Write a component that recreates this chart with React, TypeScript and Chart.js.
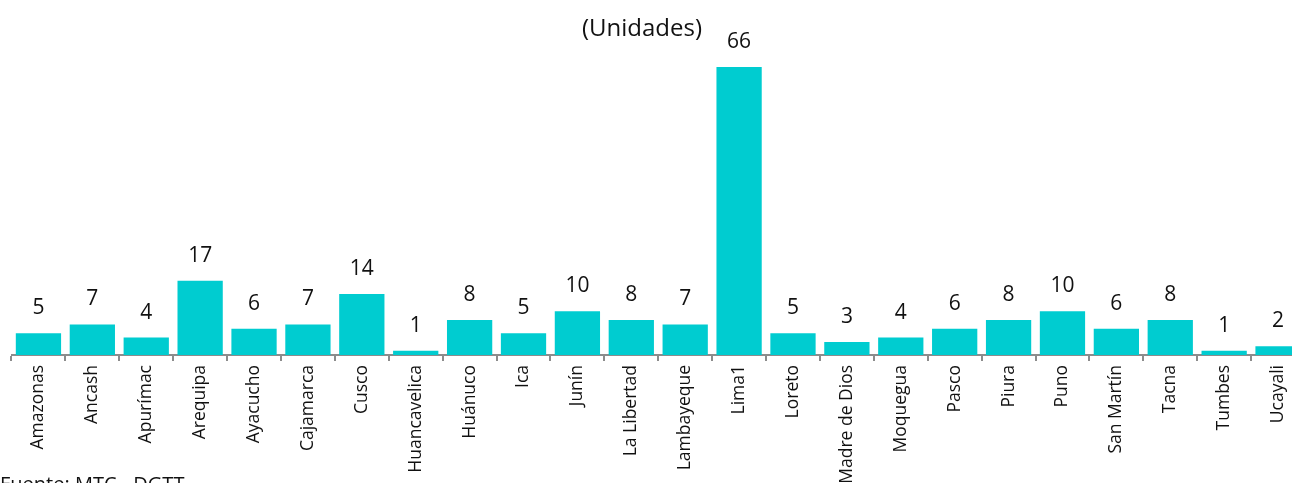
import React, { useEffect, useRef } from "react";
import { Chart, registerables } from "chart.js";

Chart.register(...registerables);

const categories = [
  "Amazonas", "Ancash", "Apurímac", "Arequipa", "Ayacucho", "Cajamarca", "Cusco",
  "Huancavelica", "Huánuco", "Ica", "Junín", "La Libertad", "Lambayeque", "Lima1",
  "Loreto", "Madre de Dios", "Moquegua", "Pasco", "Piura", "Puno", "San Martín",
  "Tacna", "Tumbes", "Ucayali",
];
const values = [5, 7, 4, 17, 6, 7, 14, 1, 8, 5, 10, 8, 7, 66, 5, 3, 4, 6, 8, 10, 6, 8, 1, 2];
const titleText = "(Unidades)";
const sourceText = "Fuente: MTC - DGTT";

const FONT = "'Open Sans', 'Noto Sans', sans-serif";
const BAR_COLOR = "#00CCD0";

export default function App() {
  const ref = useRef<HTMLCanvasElement | null>(null);

  useEffect(() => {
    if (!ref.current) return;
    const extras = {
      id: "extras",
      afterDatasetsDraw(chart: any) {
        const ctx = chart.ctx;
        ctx.save();
        ctx.fillStyle = "#111";
        ctx.textAlign = "center";
        ctx.textBaseline = "alphabetic";
        ctx.font = `21px ${FONT}`;
        const meta = chart.getDatasetMeta(0);
        meta.data.forEach((bar: any, i: number) => {
          ctx.fillText(String(values[i]), bar.x, bar.y - 19);
        });
        ctx.font = `24px ${FONT}`;
        ctx.fillText(titleText, 642, 36);
        ctx.textAlign = "left";
        ctx.font = `20px ${FONT}`;
        ctx.fillText(sourceText, 0, 491);
        ctx.restore();
      },
    };
    const chart = new Chart(ref.current, {
      type: "bar",
      data: {
        labels: categories,
        datasets: [
          {
            data: values,
            backgroundColor: BAR_COLOR,
            borderWidth: 0,
            barPercentage: 0.84,
            categoryPercentage: 1,
          },
        ],
      },
      options: {
        responsive: false,
        animation: false,
        devicePixelRatio: 1,
        layout: { padding: { left: 11.5, right: 1, top: 67, bottom: 0 } },
        plugins: {
          legend: { display: false },
          title: { display: false },
          tooltip: { enabled: false },
        },
        scales: {
          x: {
            afterFit(scale: any) {
              scale.height = 145;
            },
            grid: {
              display: true,
              drawOnChartArea: false,
              drawTicks: true,
              tickLength: 6,
              color: "#8c8c8c",
              lineWidth: 2,
              offset: true,
            },
            border: { display: true, color: "#8c8c8c", width: 2 },
            ticks: {
              autoSkip: false,
              minRotation: 90,
              maxRotation: 90,
              padding: 4,
              color: "#111",
              font: { family: FONT, size: 17.5 },
            },
          },
          y: {
            display: false,
            min: 0,
            max: 66,
          },
        },
      },
      plugins: [extras],
    });
    return () => chart.destroy();
  }, []);

  return (
    <div style={{ position: "absolute", left: 0, top: 0, width: 1292, height: 483, overflow: "hidden", background: "#fff" }}>
      <canvas ref={ref} width={1306} height={500} style={{ width: 1306, height: 500, display: "block" }} />
    </div>
  );
}
